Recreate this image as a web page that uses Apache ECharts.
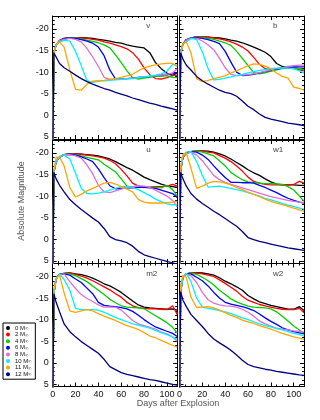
<!DOCTYPE html>
<html>
<head>
<meta charset="utf-8">
<script src="https://cdn.jsdelivr.net/npm/echarts@6/dist/echarts.min.js"></script>
<style>
  html, body { margin: 0; padding: 0; background: #fff; }
  #chart { width: 320px; height: 420px; }
</style>
</head>
<body>
<div id="chart"></div>
<script>
// 天数（所有曲线共用）
const days = [0, 1, 3, 6, 10, 15, 20, 25, 30, 35, 40, 45, 50, 55, 60, 65, 70, 75, 80, 85, 90, 95, 100, 105, 109];
const masses = ['0', '2', '4', '6', '8', '10', '11', '12'];
const colors = ['#000000', '#ff0000', '#00d000', '#0000ff', '#da70d6', '#00f0ff', '#ffa500', '#000080'];
const bands = ['v', 'b', 'u', 'w1', 'm2', 'w2'];
const xLabels = [0, 20, 40, 60, 80, 100];
const yLabels = [-20, -15, -10, -5, 0, 5];

// 每个波段 8 条曲线（按 masses 顺序），day 0 的值在画面外
const magV = [
  [12, -14.5, -16.3, -17.3, -17.8, -18.0, -18.0, -18.0, -17.9, -17.8, -17.6, -17.4, -17.2, -16.9, -16.7, -16.3, -16.0, -15.8, -15.6, -14.5, -12.2, -10.8, -9.8, -9.2, -9.8],
  [12, -14.5, -16.3, -17.3, -17.8, -18.0, -18.0, -17.9, -17.8, -17.6, -17.4, -17.0, -16.7, -16.3, -15.9, -15.4, -14.5, -13.0, -11.0, -9.4, -8.5, -8.4, -8.7, -9.2, -9.3],
  [12, -14.5, -16.3, -17.3, -17.7, -17.9, -17.9, -17.7, -17.4, -17.1, -16.8, -16.3, -15.6, -14.0, -12.2, -10.3, -8.7, -8.4, -8.6, -8.8, -9.0, -9.0, -9.2, -8.8, -8.7],
  [12, -14.5, -16.3, -17.3, -17.7, -17.9, -17.8, -17.5, -17.2, -16.7, -15.8, -13.8, -10.5, -8.4, -8.4, -8.5, -8.6, -8.8, -8.9, -9.0, -9.2, -9.3, -9.5, -9.6, -9.8],
  [12, -14.5, -16.3, -17.3, -17.6, -17.8, -17.6, -17.0, -15.5, -13.5, -11.3, -8.8, -8.3, -8.3, -8.4, -8.5, -8.6, -8.7, -8.9, -9.0, -9.2, -9.3, -9.5, -9.8, -10.8],
  [12, -14.5, -16.3, -16.9, -17.4, -17.2, -14.8, -11.5, -8.0, -7.6, -7.9, -8.0, -8.1, -8.2, -8.3, -8.4, -8.5, -8.7, -8.9, -9.1, -9.3, -9.6, -10.2, -11.8, -11.6],
  [12, -14.0, -16.5, -17.0, -15.8, -10.5, -6.0, -5.8, -7.2, -7.9, -8.0, -8.1, -8.3, -8.5, -8.8, -9.1, -9.5, -10.3, -11.0, -11.4, -11.7, -11.9, -12.0, -12.0, -11.3],
  [12, -14.5, -13.5, -12.0, -11.0, -10.2, -9.3, -8.5, -7.8, -7.2, -6.7, -6.2, -5.8, -5.3, -4.9, -4.5, -4.0, -3.6, -3.2, -2.8, -2.5, -2.1, -1.8, -1.5, -1.2]
];
const magB = [
  [12, -14.5, -16.5, -17.5, -17.9, -18.2, -18.2, -18.1, -18.0, -17.9, -17.7, -17.4, -17.2, -16.8, -16.3, -15.8, -15.2, -14.6, -13.6, -12.0, -11.3, -11.0, -11.0, -10.8, -10.7],
  [12, -14.5, -16.5, -17.5, -17.9, -18.2, -18.2, -18.1, -17.9, -17.7, -17.4, -17.0, -16.5, -15.8, -14.9, -13.4, -11.8, -10.8, -10.6, -10.8, -11.0, -10.9, -10.8, -10.5, -10.3],
  [12, -14.5, -16.5, -17.5, -17.9, -18.1, -18.0, -17.8, -17.6, -17.2, -16.8, -16.2, -14.8, -13.2, -11.5, -9.9, -9.6, -9.8, -10.2, -10.5, -10.8, -11.0, -11.0, -10.8, -10.6],
  [12, -14.5, -16.5, -17.5, -17.9, -18.0, -17.8, -17.5, -17.1, -16.6, -14.8, -12.3, -10.0, -9.2, -9.3, -9.5, -9.8, -10.1, -10.4, -10.7, -10.9, -11.1, -11.2, -11.2, -11.2],
  [12, -14.5, -16.5, -17.4, -17.8, -17.8, -17.2, -16.3, -15.2, -13.2, -11.0, -9.5, -9.2, -9.3, -9.4, -9.6, -9.9, -10.2, -10.5, -10.8, -11.0, -11.3, -11.5, -11.6, -11.6],
  [12, -14.5, -16.5, -17.0, -17.8, -17.5, -14.7, -10.8, -8.2, -8.3, -8.6, -8.9, -9.2, -9.5, -9.8, -10.1, -10.4, -10.6, -10.8, -10.9, -11.0, -10.9, -10.8, -10.3, -9.8],
  [12, -14.0, -16.5, -17.0, -14.5, -8.5, -7.8, -8.1, -8.5, -8.8, -9.2, -9.8, -10.3, -10.9, -11.5, -11.9, -11.8, -11.4, -10.8, -9.8, -9.0, -8.6, -6.5, -6.2, -5.8],
  [12, -14.5, -13.0, -11.6, -10.5, -9.0, -8.0, -7.2, -6.5, -5.8, -5.3, -5.0, -4.4, -3.3, -2.1, -1.3, -0.3, 0.5, 0.9, 1.2, 1.5, 1.8, 2.0, 2.2, 2.4]
];
const magU = [
  [12, -15.5, -18.0, -19.0, -19.6, -19.8, -19.8, -19.7, -19.6, -19.5, -19.3, -19.0, -18.6, -18.0, -17.3, -16.6, -16.0, -15.2, -14.4, -13.8, -13.3, -12.8, -12.4, -12.2, -12.0],
  [12, -15.5, -18.0, -19.0, -19.6, -19.8, -19.8, -19.7, -19.5, -19.3, -19.1, -18.8, -18.3, -17.5, -16.2, -14.7, -13.0, -12.3, -12.1, -12.1, -12.2, -12.2, -12.3, -12.7, -12.3],
  [12, -15.5, -18.0, -19.0, -19.6, -19.7, -19.6, -19.3, -19.0, -18.7, -18.4, -17.4, -16.5, -15.6, -14.0, -12.3, -12.0, -12.0, -12.0, -12.0, -12.0, -11.9, -12.5, -11.5, -10.0],
  [12, -15.5, -18.0, -19.0, -19.6, -19.7, -19.5, -19.1, -18.6, -18.0, -16.3, -14.3, -12.4, -11.7, -11.8, -11.9, -11.9, -12.0, -12.0, -11.9, -11.8, -11.4, -11.0, -10.6, -9.7],
  [12, -15.5, -18.0, -19.0, -19.6, -19.6, -19.3, -18.8, -17.2, -15.2, -12.5, -11.0, -10.8, -11.2, -11.6, -12.0, -12.2, -12.4, -12.3, -12.0, -11.4, -10.7, -10.0, -9.0, -7.5],
  [12, -15.5, -18.0, -19.2, -19.5, -18.6, -15.3, -11.8, -10.6, -10.5, -10.7, -11.0, -11.4, -11.8, -12.2, -12.2, -12.0, -11.5, -10.8, -10.1, -9.3, -8.7, -8.2, -8.0, -8.0],
  [12, -16.0, -19.0, -19.0, -17.0, -12.0, -9.8, -10.4, -11.2, -11.8, -12.4, -13.0, -13.2, -12.8, -12.2, -11.6, -11.0, -9.2, -8.6, -8.4, -8.4, -8.4, -8.5, -8.6, -8.8],
  [12, -15.5, -14.0, -12.5, -11.0, -9.2, -8.0, -6.9, -5.9, -4.9, -4.0, -2.5, -0.6, 0.1, 0.4, 0.8, 1.6, 2.8, 3.6, 4.0, 4.4, 4.8, 5.1, 5.5, 5.8]
];
const magW1 = [
  [12, -16.0, -19.0, -20.0, -20.3, -20.5, -20.5, -20.4, -20.2, -19.8, -19.3, -18.6, -17.8, -17.0, -16.1, -15.4, -14.8, -14.0, -13.3, -12.8, -12.6, -12.6, -12.6, -12.5, -12.5],
  [12, -16.0, -19.0, -20.0, -20.3, -20.5, -20.4, -20.2, -20.0, -19.4, -18.8, -18.0, -17.0, -15.8, -14.4, -13.4, -13.0, -12.7, -12.6, -12.6, -12.6, -12.6, -12.7, -13.4, -13.0],
  [12, -16.0, -19.0, -20.0, -20.3, -20.5, -20.2, -19.8, -19.3, -18.2, -17.0, -15.5, -14.6, -13.8, -13.3, -13.1, -13.0, -12.9, -12.9, -12.8, -12.7, -12.2, -11.4, -10.0, -8.8],
  [12, -16.0, -19.0, -20.0, -20.3, -20.2, -19.5, -18.5, -17.0, -15.6, -14.3, -13.2, -13.2, -13.1, -13.1, -13.0, -12.5, -12.0, -11.4, -10.8, -10.1, -9.5, -9.0, -8.6, -8.4],
  [12, -16.0, -19.0, -19.8, -20.2, -19.5, -18.2, -16.5, -14.8, -13.8, -13.2, -12.7, -12.3, -11.9, -11.5, -11.1, -10.7, -10.3, -9.9, -9.6, -9.3, -9.0, -8.8, -8.6, -8.5],
  [12, -16.0, -19.5, -20.2, -20.3, -18.0, -14.8, -12.1, -12.2, -12.3, -12.0, -11.8, -11.5, -11.2, -10.8, -10.4, -10.0, -9.5, -9.1, -8.7, -8.3, -7.9, -7.6, -7.2, -7.0],
  [12, -17.0, -19.5, -20.0, -16.5, -11.8, -12.3, -13.0, -13.4, -13.3, -13.0, -12.6, -12.0, -11.5, -10.9, -10.4, -9.9, -9.3, -8.8, -8.4, -8.0, -7.6, -7.2, -6.8, -6.5],
  [12, -15.5, -14.0, -12.3, -10.6, -9.3, -8.3, -7.4, -6.5, -5.7, -4.8, -3.9, -3.0, -1.8, -0.4, 0.1, 0.5, 0.8, 1.1, 1.4, 1.7, 2.0, 2.2, 2.4, 2.6]
];
const magM2 = [
  [12, -16.0, -19.5, -20.5, -20.7, -20.8, -20.6, -20.4, -20.1, -19.6, -19.0, -18.3, -17.8, -17.1, -16.3, -15.3, -14.3, -13.4, -12.9, -12.7, -12.6, -12.5, -12.4, -12.5, -12.2],
  [12, -16.0, -19.5, -20.5, -20.7, -20.8, -20.5, -20.1, -19.6, -19.0, -18.3, -17.6, -16.9, -16.0, -15.2, -14.0, -13.2, -12.8, -12.6, -12.5, -12.5, -12.4, -12.3, -13.2, -11.2],
  [12, -16.0, -19.5, -20.5, -20.7, -20.6, -20.2, -19.5, -18.8, -17.8, -16.8, -15.8, -14.7, -13.9, -13.2, -12.9, -12.8, -12.7, -12.5, -11.7, -10.9, -10.1, -9.3, -8.2, -6.9],
  [12, -16.0, -19.5, -20.5, -20.6, -20.3, -19.4, -18.6, -17.3, -16.0, -14.0, -13.3, -13.1, -13.0, -12.8, -12.5, -11.9, -11.0, -10.0, -9.1, -8.3, -7.8, -7.3, -6.8, -6.1],
  [12, -16.0, -19.5, -20.5, -20.6, -18.8, -17.2, -15.8, -14.9, -14.2, -13.4, -12.9, -12.9, -12.9, -12.2, -11.0, -9.8, -9.0, -8.6, -8.2, -7.8, -7.1, -6.7, -6.0, -5.0],
  [12, -16.0, -19.5, -20.6, -19.3, -16.8, -12.6, -12.3, -12.3, -12.3, -12.2, -11.7, -11.1, -10.5, -10.0, -9.5, -9.0, -8.7, -8.4, -8.0, -7.5, -7.0, -6.5, -6.0, -5.4],
  [12, -17.0, -19.5, -20.3, -16.2, -12.0, -11.7, -12.0, -12.3, -12.0, -11.4, -10.8, -10.3, -9.8, -9.2, -8.6, -8.2, -7.7, -7.0, -6.2, -5.8, -5.2, -4.6, -4.0, -3.6],
  [12, -16.0, -14.0, -11.8, -9.0, -7.2, -6.0, -4.9, -4.0, -3.1, -2.2, -0.8, 0.9, 1.6, 2.3, 2.7, 3.0, 3.3, 3.6, 3.9, 4.1, 4.4, 4.7, 5.0, 5.2]
];
const magW2 = [
  [12, -16.5, -19.8, -20.6, -20.8, -20.9, -20.8, -20.6, -20.3, -19.7, -18.9, -18.3, -17.6, -16.8, -15.6, -14.8, -14.1, -13.7, -13.3, -13.0, -12.7, -12.4, -12.4, -13.0, -12.1],
  [12, -16.5, -19.8, -20.6, -20.8, -20.8, -20.6, -20.3, -20.0, -19.2, -18.4, -17.5, -16.6, -15.4, -14.5, -14.0, -13.5, -13.2, -12.9, -12.6, -12.4, -12.3, -12.3, -12.6, -11.6],
  [12, -16.5, -19.8, -20.6, -20.8, -20.5, -19.8, -19.0, -18.0, -16.8, -15.8, -14.8, -14.1, -13.6, -13.1, -12.9, -12.8, -12.7, -12.5, -11.8, -10.8, -9.7, -8.5, -7.6, -6.8],
  [12, -16.5, -19.8, -20.6, -20.6, -19.8, -19.0, -17.8, -16.3, -15.0, -14.0, -13.6, -13.3, -13.0, -12.6, -12.1, -11.3, -10.4, -9.6, -8.9, -8.1, -7.6, -7.2, -6.9, -6.7],
  [12, -16.5, -19.8, -20.5, -20.2, -18.6, -16.3, -14.6, -13.8, -13.4, -13.2, -13.1, -12.9, -12.4, -11.7, -10.8, -9.7, -9.0, -8.5, -8.0, -7.8, -7.6, -7.4, -7.3, -7.1],
  [12, -16.5, -19.8, -20.7, -18.8, -15.0, -12.9, -12.6, -12.4, -12.1, -11.8, -11.4, -10.9, -10.4, -10.0, -9.5, -9.0, -8.6, -8.3, -7.9, -7.6, -7.2, -6.8, -6.5, -6.2],
  [12, -18.0, -20.3, -19.8, -15.2, -12.8, -12.9, -13.0, -12.7, -12.2, -11.6, -11.0, -10.5, -9.9, -9.5, -9.1, -8.6, -8.2, -7.8, -7.3, -6.8, -6.4, -6.0, -5.7, -5.4],
  [12, -16.5, -14.5, -13.0, -11.2, -9.8, -8.4, -6.8, -5.5, -4.6, -3.8, -2.9, -1.8, -0.6, 0.4, 0.9, 1.2, 1.5, 1.7, 2.0, 2.2, 2.4, 2.6, 2.8, 2.9]
];
const panels = [magV, magB, magU, magW1, magM2, magW2];

// 版面
const colLeft = [52.7, 179.5];
const rowTop = [16, 140, 263.5];
const gw = 124.5, gh = 123;
const font = 'Liberation Sans, Arial, sans-serif';

let grid = [], xAxis = [], yAxis = [], series = [], graphic = [];

panels.forEach(function (mags, i) {
  const col = i % 2, row = Math.floor(i / 2);
  grid.push({ left: colLeft[col], top: rowTop[row], width: gw, height: gh });
  // x: 主刻度(带标签) / 次刻度，上下各一组
  ['bottom', 'top'].forEach(function (pos) {
    xAxis.push({
      type: 'value', gridIndex: i, position: pos, min: 0, max: 109,
      axisLine: { show: true, onZero: false, lineStyle: { color: '#000', width: 1 } },
      axisTick: { inside: true, length: 4, customValues: xLabels, lineStyle: { color: '#000' } },
      axisLabel: { show: pos === 'bottom' && row === 2, customValues: xLabels, fontSize: 9, color: '#111', margin: 4, fontFamily: font },
      splitLine: { show: false }
    });
    xAxis.push({
      type: 'value', gridIndex: i, position: pos, min: 0, max: 109, interval: 5,
      axisLine: { show: false, onZero: false },
      axisTick: { inside: true, length: 2, lineStyle: { color: '#000' } },
      axisLabel: { show: false }, splitLine: { show: false }
    });
  });
  ['left', 'right'].forEach(function (pos) {
    yAxis.push({
      type: 'value', gridIndex: i, position: pos, inverse: true, min: -23, max: 5.5,
      axisLine: { show: true, onZero: false, lineStyle: { color: '#000', width: 1 } },
      axisTick: { inside: true, length: 4, customValues: yLabels, lineStyle: { color: '#000' } },
      axisLabel: { show: pos === 'left' && col === 0, customValues: yLabels, fontSize: 9, color: '#111', margin: 4, fontFamily: font },
      splitLine: { show: false }
    });
    yAxis.push({
      type: 'value', gridIndex: i, position: pos, inverse: true, min: -23, max: 5.5, interval: 1,
      axisLine: { show: false, onZero: false },
      axisTick: { inside: true, length: 2, lineStyle: { color: '#000' } },
      axisLabel: { show: false }, splitLine: { show: false }
    });
  });
  mags.forEach(function (vals, k) {
    series.push({
      type: 'line', name: masses[k] + ' M☉',
      xAxisIndex: 4 * i, yAxisIndex: 4 * i,
      data: days.map(function (d, j) { return [d, vals[j]]; }),
      showSymbol: false, clip: true, z: 2,
      lineStyle: { color: colors[k], width: 1.3 },
      itemStyle: { color: colors[k] }
    });
  });
  // 波段名
  graphic.push({
    type: 'text', left: colLeft[col] + gw - 31, top: rowTop[row] + 6,
    style: { text: bands[i], fill: '#444', font: '8px ' + font }
  });
});

// 轴标题
graphic.push({
  type: 'text', x: 22, y: 201, rotation: Math.PI / 2,
  style: { text: 'Absolute Magnitude', fill: '#555', font: '9px ' + font, align: 'center', verticalAlign: 'middle' }
});
graphic.push({
  type: 'text', x: 178, y: 404,
  style: { text: 'Days after Explosion', fill: '#555', font: '9px ' + font, align: 'center', verticalAlign: 'middle' }
});

const option = {
  animation: false,
  backgroundColor: '#fff',
  grid: grid, xAxis: xAxis, yAxis: yAxis, series: series, graphic: graphic,
  legend: {
    data: masses.map(function (m) { return m + ' M☉'; }),
    orient: 'vertical', left: 3, top: 323,
    icon: 'circle', itemWidth: 4, itemHeight: 4, itemGap: 0.6,
    padding: [2, 3, 2, 3], borderColor: '#000', borderWidth: 1,
    selectedMode: false, backgroundColor: '#fff',
    formatter: function (name) {
      const n = name.split(' ')[0];
      return '{a|' + n + ' M}{b|☉}';
    },
    textStyle: {
      color: '#111', fontSize: 6, lineHeight: 6, fontFamily: font,
      rich: { a: { fontSize: 6, lineHeight: 6, fontFamily: font }, b: { fontSize: 4, lineHeight: 6, verticalAlign: 'bottom' } }
    }
  }
};

const chart = echarts.init(document.getElementById('chart'), null, { renderer: 'canvas' });
chart.setOption(option);
</script>
</body>
</html>
